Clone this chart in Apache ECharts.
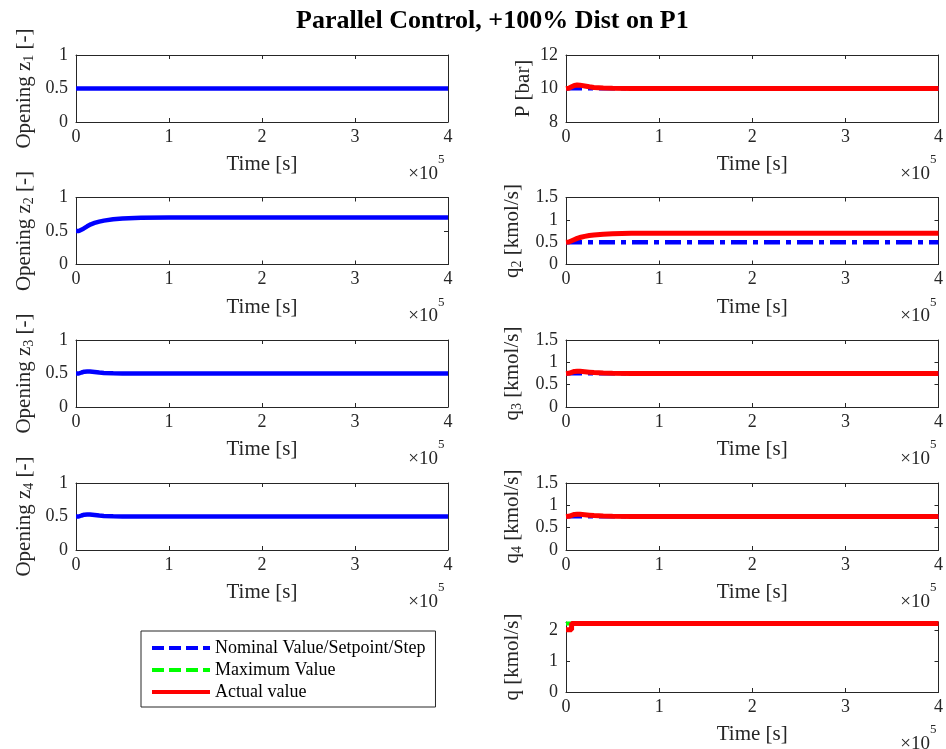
<!DOCTYPE html>
<html><head><meta charset="utf-8">
<script src="https://cdn.jsdelivr.net/npm/echarts@6/dist/echarts.min.js"></script>
<style>html,body{margin:0;padding:0;background:#fff}#c{width:946px;height:749px}</style>
</head><body><div id="c"></div>
<script>
// ---- data ----
const titleText = 'Parallel Control, +100% Dist on P1';
const tFlat = [0, 400000];
const z1 = [0.5, 0.5];
const tRise = [0, 3000, 5000, 8000, 12000, 16000, 20000, 25000, 30000, 40000, 50000, 70000, 100000, 400000];
const z2 = [0.5, 0.5, 0.51, 0.535, 0.57, 0.6, 0.62, 0.64, 0.655, 0.675, 0.688, 0.697, 0.7, 0.7];
const q2Act = [0.5, 0.505, 0.52, 0.55, 0.585, 0.61, 0.63, 0.648, 0.66, 0.678, 0.69, 0.698, 0.7, 0.7];
const tBump = [0, 3000, 6000, 9000, 12000, 15000, 20000, 25000, 30000, 40000, 50000, 70000, 400000];
const z3 = [0.5, 0.5, 0.515, 0.527, 0.53, 0.529, 0.522, 0.514, 0.508, 0.503, 0.501, 0.5, 0.5];
const z4 = [0.5, 0.5, 0.515, 0.527, 0.53, 0.529, 0.522, 0.514, 0.508, 0.503, 0.501, 0.5, 0.5];
const pAct = [10, 10.02, 10.1, 10.18, 10.21, 10.2, 10.15, 10.1, 10.06, 10.03, 10.01, 10, 10];
const q3Act = [0.75, 0.755, 0.775, 0.795, 0.8, 0.8, 0.79, 0.78, 0.77, 0.76, 0.753, 0.75, 0.75];
const q4Act = [0.75, 0.755, 0.775, 0.795, 0.8, 0.8, 0.79, 0.78, 0.77, 0.76, 0.753, 0.75, 0.75];
const pNom = [10, 10];
const q2Nom = [0.5, 0.5];
const q3Nom = [0.75, 0.75];
const q4Nom = [0.75, 0.75];
const tStep = [0, 6000, 6000, 400000];
const qAct = [2.0, 2.0, 2.2, 2.2];
const qMax = [2.2, 2.2];
const legendNames = ['Nominal Value/Setpoint/Step', 'Maximum Value', 'Actual value'];

// ---- layout ----
const FONT = "'Liberation Serif','Times New Roman',serif";
const TXT = '#262626';
const tops = [55, 197.5, 340, 483];
const H = 67;
const L = {left: 76, width: 372};
const R = {left: 566, width: 374};

const grids = [], xAxes = [], yAxes = [], series = [], graphics = [];

function pairs(t, v) { return t.map((x, i) => [x, v[i]]); }

function panel(g, yMin, yMax, yInt, nameRich, nameGap, yCustom) {
  const gi = grids.length;
  grids.push({left: g.left, top: g.top, width: g.width, height: g.height, show: false});
  const tick = {show: true, inside: true, length: 4, lineStyle: {color: TXT, width: 1}};
  const line = {show: true, onZero: false, lineStyle: {color: TXT, width: 1}};
  xAxes.push({type: 'value', gridIndex: gi, position: 'bottom', min: 0, max: 400000, interval: 100000,
    axisLine: line, axisTick: tick, splitLine: {show: false},
    axisLabel: {color: TXT, fontFamily: FONT, fontSize: 18, margin: 6, formatter: v => String(v / 100000)},
    name: 'Time [s]', nameLocation: 'middle', nameGap: 32,
    nameTextStyle: {color: TXT, fontFamily: FONT, fontSize: 21}});
  xAxes.push({type: 'value', gridIndex: gi, position: 'top', min: 0, max: 400000, interval: 100000,
    axisLine: line, axisTick: tick, splitLine: {show: false}, axisLabel: {show: false}});
  const yl = {color: TXT, fontFamily: FONT, fontSize: 18, margin: 8};
  const ytk = Object.assign({}, tick);
  if (yCustom) { yl.customValues = yCustom; ytk.customValues = yCustom; }
  yAxes.push({type: 'value', gridIndex: gi, position: 'left', min: yMin, max: yMax, interval: yInt,
    axisLine: line, axisTick: ytk, splitLine: {show: false}, axisLabel: yl,
    name: nameRich, nameLocation: 'middle', nameGap: nameGap,
    nameTextStyle: {color: TXT, fontFamily: FONT, fontSize: 21, lineHeight: 24,
      rich: {n: {fontFamily: FONT, fontSize: 21, color: TXT, lineHeight: 24},
             s: {fontFamily: FONT, fontSize: 14, color: TXT, lineHeight: 14, verticalAlign: 'bottom'}}}});
  yAxes.push({type: 'value', gridIndex: gi, position: 'right', min: yMin, max: yMax, interval: yInt,
    axisLine: line, axisTick: Object.assign({}, ytk), splitLine: {show: false}, axisLabel: {show: false}});
  const bx = g.left + g.width - 10;
  const by = g.top + g.height;
  graphics.push({type: 'text', x: bx, y: by + 52,
    style: {text: '×10', align: 'right', verticalAlign: 'middle', fill: TXT, font: '19px ' + FONT}});
  graphics.push({type: 'text', x: bx, y: by + 38,
    style: {text: '5', align: 'left', verticalAlign: 'middle', fill: TXT, font: '13px ' + FONT}});
  return 2 * gi;
}

function addLine(ai, name, t, v, color, width, type, z) {
  series.push({type: 'line', name: name, xAxisIndex: ai, yAxisIndex: ai, data: pairs(t, v),
    symbol: 'none', showSymbol: false, smooth: false, clip: true, z: z || 2,
    lineStyle: {color: color, width: width, type: type || 'solid', cap: 'butt'}, itemStyle: {color: color},
    emphasis: {disabled: true}, animation: false});
}

const BLUE = '#0000ff', RED = '#ff0000', GREEN = '#00ff00';
const DASHDOT = [16, 6, 5, 6];

// left column
let a;
a = panel({left: L.left, top: tops[0], width: L.width, height: H}, 0, 1, 0.5, '{n|Opening z}{s|1}{n| [-]}', 40);
addLine(a, 'z1', tFlat, z1, BLUE, 4.5);
a = panel({left: L.left, top: tops[1], width: L.width, height: H}, 0, 1, 0.5, '{n|Opening z}{s|2}{n| [-]}', 40);
addLine(a, 'z2', tRise, z2, BLUE, 4.5);
a = panel({left: L.left, top: tops[2], width: L.width, height: H}, 0, 1, 0.5, '{n|Opening z}{s|3}{n| [-]}', 40);
addLine(a, 'z3', tBump, z3, BLUE, 4.5);
a = panel({left: L.left, top: tops[3], width: L.width, height: H}, 0, 1, 0.5, '{n|Opening z}{s|4}{n| [-]}', 40);
addLine(a, 'z4', tBump, z4, BLUE, 4.5);

// right column
a = panel({left: R.left, top: tops[0], width: R.width, height: H}, 8, 12, 2, '{n|P [bar]}', 31);
addLine(a, legendNames[0], tFlat, pNom, BLUE, 4, DASHDOT, 2);
addLine(a, legendNames[2], tBump, pAct, RED, 5, 'solid', 3);
a = panel({left: R.left, top: tops[1], width: R.width, height: H}, 0, 1.5, 0.5, '{n|q}{s|2}{n| [kmol/s]}', 42);
addLine(a, legendNames[0], tFlat, q2Nom, BLUE, 4.5, DASHDOT, 2);
addLine(a, legendNames[2], tRise, q2Act, RED, 5, 'solid', 3);
a = panel({left: R.left, top: tops[2], width: R.width, height: H}, 0, 1.5, 0.5, '{n|q}{s|3}{n| [kmol/s]}', 42);
addLine(a, legendNames[0], tFlat, q3Nom, BLUE, 4, DASHDOT, 2);
addLine(a, legendNames[2], tBump, q3Act, RED, 5, 'solid', 3);
a = panel({left: R.left, top: tops[3], width: R.width, height: H}, 0, 1.5, 0.5, '{n|q}{s|4}{n| [kmol/s]}', 42);
addLine(a, legendNames[0], tFlat, q4Nom, BLUE, 4, DASHDOT, 2);
addLine(a, legendNames[2], tBump, q4Act, RED, 5, 'solid', 3);
a = panel({left: R.left, top: 622, width: R.width, height: 70}, 0, 2.25, 1, '{n|q [kmol/s]}', 42, [0, 1, 2]);
addLine(a, legendNames[1], tFlat, qMax, GREEN, 4, [10, 5], 2);
addLine(a, legendNames[2], tStep, qAct, RED, 5, 'solid', 3);

const noSym = {color: 'rgba(0,0,0,0)', borderWidth: 0, opacity: 0};
const option = {
  backgroundColor: '#ffffff',
  animation: false,
  title: {text: titleText, left: 291, top: 3,
    textStyle: {fontFamily: FONT, fontSize: 26, fontWeight: 'bold', color: '#000'}},
  grid: grids, xAxis: xAxes, yAxis: yAxes, series: series,
  legend: {
    show: true, orient: 'vertical', left: 141, top: 631,
    padding: [8, 10, 6, 9], itemWidth: 58, itemHeight: 14, itemGap: 4,
    borderColor: TXT, borderWidth: 1, borderRadius: 0, backgroundColor: '#fff',
    selectedMode: false,
    textStyle: {fontFamily: FONT, fontSize: 18, lineHeight: 18, color: '#000'},
    data: [
      {name: legendNames[0], itemStyle: noSym, lineStyle: {type: [12, 5], width: 4, color: BLUE}},
      {name: legendNames[1], itemStyle: noSym, lineStyle: {type: [12, 5], width: 4, color: GREEN}},
      {name: legendNames[2], itemStyle: noSym, lineStyle: {type: 'solid', width: 4, color: RED}}
    ]
  },
  graphic: graphics
};
const chart = echarts.init(document.getElementById('c'), null, {renderer: 'canvas'});
chart.setOption(option);
</script></body></html>
